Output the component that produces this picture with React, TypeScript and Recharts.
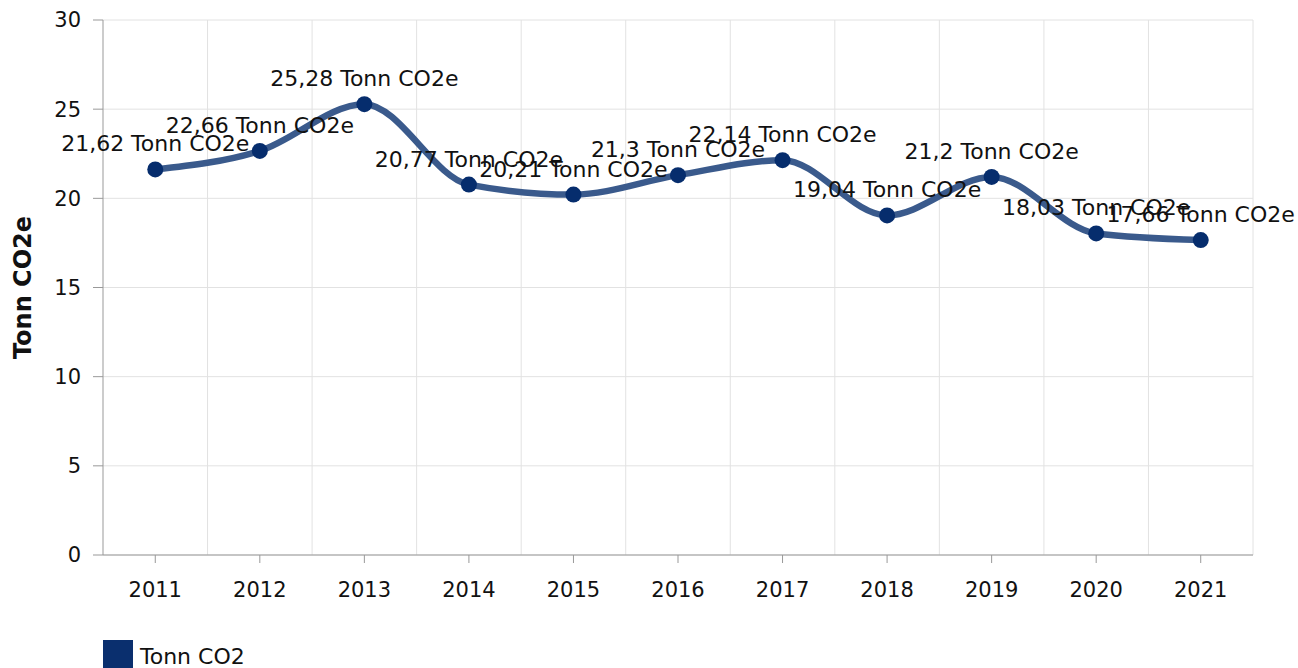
import { CartesianGrid, Legend, LabelList, Line, LineChart, ReferenceLine, XAxis, YAxis } from "recharts";

const years = [2011, 2012, 2013, 2014, 2015, 2016, 2017, 2018, 2019, 2020, 2021];
const emissions = [21.62, 22.66, 25.28, 20.77, 20.21, 21.3, 22.14, 19.04, 21.2, 18.03, 17.66];
const yTicks = [0, 5, 10, 15, 20, 25, 30];
const seriesName = "Tonn CO2";
const unit = "Tonn CO2e";

const FONT = "'DejaVu Sans', Verdana, sans-serif";
const LINE_COLOR = "#3a5a8c";
const DOT_COLOR = "#062d6d";
const GRID = "#e2e2e2";
const AXIS = "#999999";

const data = years.map((year, i) => ({ year, value: emissions[i] }));
// grid lines sit between the years, plus the right edge
const boundaries = years.map((y) => y + 0.5);
const xDomain = [years[0] - 0.5, years[years.length - 1] + 0.5];

const fmt = (v: unknown) => `${String(v).replace(".", ",")} ${unit}`;

function LegendBox() {
  return (
    <div style={{ display: "flex", alignItems: "flex-start", fontFamily: FONT, fontSize: 22, color: "#111" }}>
      <span style={{ display: "inline-block", width: 30, height: 30, background: "#0a2f6e", marginRight: 7 }} />
      <span style={{ lineHeight: "30px", marginTop: 2 }}>{seriesName}</span>
    </div>
  );
}

export default function App() {
  return (
    <div style={{ position: "absolute", left: 0, top: 0, width: 1298, height: 668, background: "#fff", overflow: "hidden" }}>
      <LineChart width={1298} height={668} data={data} margin={{ top: 20, right: 45, bottom: 0, left: 0 }}>
        <CartesianGrid vertical={false} stroke={GRID} strokeWidth={1} />
        {boundaries.map((b) => (
          <ReferenceLine key={b} x={b} stroke={GRID} strokeWidth={1} />
        ))}
        <XAxis
          dataKey="year"
          type="number"
          scale="linear"
          domain={xDomain}
          allowDataOverflow
          ticks={years}
          height={81}
          stroke={AXIS}
          tickSize={8}
          tickMargin={19}
          tick={{ fill: "#111", fontSize: 21, fontFamily: FONT }}
        />
        <YAxis
          domain={[0, 30]}
          ticks={yTicks}
          width={103}
          stroke={AXIS}
          tickSize={10}
          tickMargin={12}
          tick={{ fill: "#111", fontSize: 21, fontFamily: FONT }}
          label={{
            value: unit,
            angle: -90,
            position: "insideLeft",
            offset: 22,
            style: { textAnchor: "middle", fontWeight: "bold", fontSize: 24, fontFamily: FONT, fill: "#111" },
          }}
        />
        <Legend
          verticalAlign="bottom"
          align="left"
          content={() => <LegendBox />}
          wrapperStyle={{ left: 103, bottom: -4, width: "auto" }}
        />
        <Line
          type="monotone"
          dataKey="value"
          name={seriesName}
          stroke={LINE_COLOR}
          strokeWidth={6.5}
          dot={{ r: 8, fill: DOT_COLOR, stroke: "none", strokeWidth: 0 }}
          activeDot={false}
          isAnimationActive={false}
        >
          <LabelList
            dataKey="value"
            position="top"
            offset={18}
            formatter={fmt}
            style={{ fill: "#111", fontSize: 22, fontFamily: FONT }}
          />
        </Line>
      </LineChart>
    </div>
  );
}
